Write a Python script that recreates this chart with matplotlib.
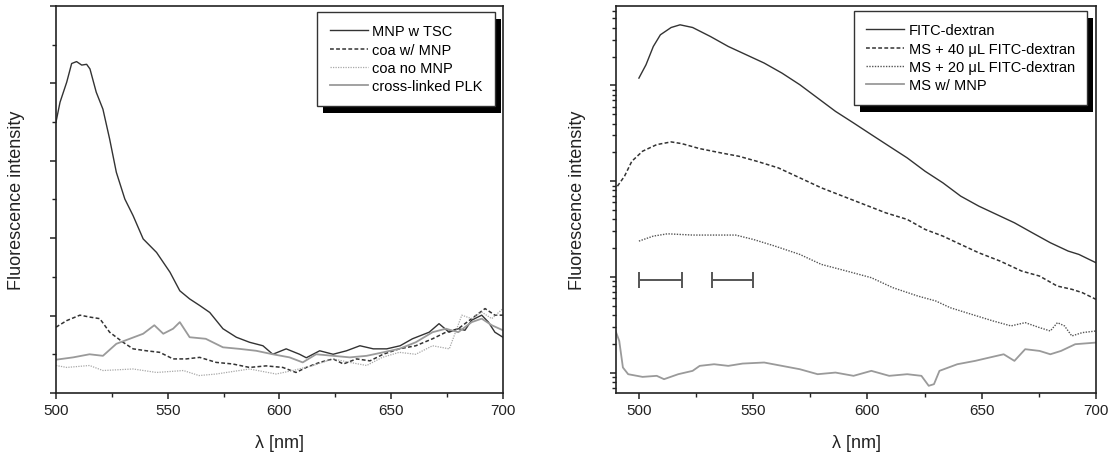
import numpy as np
import matplotlib.pyplot as plt
from matplotlib.patches import Rectangle

plt.rcParams['font.family'] = ['Liberation Sans', 'DejaVu Sans']

# ---- left panel (arbitrary linear units, 0-10) ----
tsc_x = [500, 501.8, 504.8, 507, 509.2, 511.5, 513.7, 515.2, 518, 521, 524, 527, 530.8, 534.5,
         539, 545, 551, 555.4, 559.8, 564.3, 568.8, 574.7, 580.7, 586.6, 592.6, 597, 603, 609,
         612, 618, 624, 630, 636, 642, 648, 654, 659.5, 667, 671.4, 675.9, 680, 683, 686,
         690.5, 693.5, 696.4, 700]
tsc_y = [7.0, 7.51, 8.03, 8.51, 8.56, 8.47, 8.49, 8.37, 7.77, 7.33, 6.56, 5.7, 5.01, 4.58,
         3.98, 3.63, 3.12, 2.64, 2.43, 2.26, 2.08, 1.66, 1.44, 1.31, 1.22, 1.0, 1.14, 1.0,
         0.91, 1.09, 1.0, 1.09, 1.22, 1.14, 1.14, 1.22, 1.4, 1.57, 1.79, 1.57, 1.66, 1.62, 1.88,
         2.01, 1.83, 1.57, 1.44]

coa_mnp_x = [500, 504.8, 510.7, 515.2, 519.6, 524, 530, 534.5, 540.5, 546.4, 552.4, 558.3,
             564.3, 571.7, 579, 586.6, 594, 601.5, 607.4, 612, 618, 624, 628.6, 634.5, 640.5,
             646.4, 653.6, 661, 668.5, 674.5, 680, 686, 692, 696.4, 700]
coa_mnp_y = [1.70, 1.87, 2.01, 1.96, 1.92, 1.57, 1.31, 1.14, 1.09, 1.05, 0.88, 0.88,
             0.92, 0.79, 0.75, 0.66, 0.70, 0.66, 0.53, 0.66, 0.79, 0.88, 0.75, 0.88, 0.83,
             1.0, 1.14, 1.22, 1.4, 1.57, 1.66, 1.92, 2.18, 2.01, 2.01]

coa_no_x = [500, 504.8, 515, 521, 534.5, 545, 557, 564, 571.7, 586.6, 598.5, 606, 615, 624,
            631.5, 639, 646, 653.6, 661, 668.5, 676, 681.6, 686, 690.5, 695, 700]
coa_no_y = [0.71, 0.66, 0.71, 0.58, 0.62, 0.53, 0.58, 0.45, 0.49, 0.62, 0.49, 0.58, 0.71, 0.88,
            0.79, 0.71, 0.92, 1.05, 1.0, 1.22, 1.14, 2.01, 1.92, 2.09, 1.92, 2.18]

plk_x = [500, 507.7, 515, 521, 527, 533, 539, 544, 548, 552.4, 555.4, 559.8, 567, 574.7, 582,
         589.6, 597, 604.5, 610.4, 616.4, 624, 631.5, 639, 646.4, 653.6, 661, 668.5, 674.5,
         680, 686, 690.5, 695, 700]
plk_y = [0.86, 0.92, 1.0, 0.96, 1.27, 1.40, 1.53, 1.75, 1.53, 1.66, 1.83, 1.44, 1.40, 1.18, 1.14,
         1.09, 1.0, 0.92, 0.79, 1.0, 0.96, 0.92, 0.96, 1.05, 1.14, 1.31, 1.57, 1.66,
         1.57, 1.83, 1.92, 1.75, 1.62]

left_labels = ['MNP w TSC', 'coa w/ MNP', 'coa no MNP', 'cross-linked PLK']

# ---- right panel (log10 of intensity) ----
fitc_x = [500, 503.1, 506.3, 509.4, 514.1, 518, 523.5, 531.3, 539.1, 547, 554.8, 562.6, 570.4,
          578.2, 586, 593.9, 601.7, 609.5, 617.4, 625.2, 633, 640.8, 648.7, 656.5, 664.3,
          672.1, 680, 687.8, 692.5, 700]
fitc_lg = [4.076, 4.215, 4.406, 4.528, 4.604, 4.632, 4.604, 4.51, 4.406, 4.319, 4.233, 4.128,
           4.007, 3.868, 3.729, 3.608, 3.486, 3.365, 3.243, 3.104, 2.983, 2.844, 2.74, 2.653,
           2.566, 2.462, 2.358, 2.271, 2.236, 2.149]

ms40_x = [490.6, 493.7, 496.9, 501.6, 507.8, 514.1, 518.8, 526.6, 536, 543.8, 551.6, 561,
          570.4, 579.8, 589.2, 598.6, 608, 617.4, 625.2, 633, 640.8, 648.7, 658, 667.4, 675.3,
          683, 689.4, 694, 700]
ms40_lg = [2.948, 3.052, 3.208, 3.313, 3.382, 3.41, 3.392, 3.34, 3.295, 3.26, 3.208, 3.139,
           3.035, 2.931, 2.844, 2.757, 2.67, 2.601, 2.497, 2.427, 2.34, 2.253, 2.167, 2.063, 2.01,
           1.906, 1.872, 1.837, 1.767]

ms20_x = [500, 506.3, 512.5, 523.5, 531.3, 542.3, 550.1, 559.5, 570.4, 579.8, 590.8, 601.7,
          611.1, 622, 629.9, 636.2, 645.5, 654.9, 662.8, 669, 675.3, 680, 683.1, 686.2, 689.4,
          694, 700]
ms20_lg = [2.375, 2.427, 2.451, 2.438, 2.438, 2.438, 2.392, 2.323, 2.236, 2.132, 2.063, 1.993,
           1.889, 1.802, 1.75, 1.68, 1.611, 1.542, 1.49, 1.524, 1.472, 1.437, 1.524, 1.49, 1.385,
           1.42, 1.437]

msmnp_x = [489.8, 491.4, 493, 495.3, 501.6, 507.8, 511, 517.2, 523.5, 526.6, 532.9, 539.1,
           545.4, 554.8, 562.6, 570.4, 578.2, 586, 593.9, 601.7, 609.5, 617.4, 623.6, 626.8,
           629.1, 631.5, 639.3, 647.1, 653.4, 659.6, 664.3, 669, 675.3, 680, 684.7, 690.9, 700]
msmnp_lg = [1.437, 1.333, 1.056, 0.986, 0.958, 0.969, 0.934, 0.986, 1.021, 1.073, 1.09, 1.073,
            1.097, 1.108, 1.073, 1.038, 0.986, 1.003, 0.969, 1.021, 0.969, 0.986, 0.969, 0.865,
            0.882, 1.021, 1.09, 1.125, 1.16, 1.194, 1.125, 1.247, 1.229, 1.194, 1.229, 1.299,
            1.316]

right_labels = ['FITC-dextran', 'MS + 40 \u03bcL FITC-dextran', 'MS + 20 \u03bcL FITC-dextran', 'MS w/ MNP']

# horizontal bars (range markers)
bar_x = [509.4, 541]
bar_half = [9.4, 9.0]
bar_lg = [1.965, 1.965]

dark = '#333333'
light = '#9a9a9a'

fig = plt.figure(figsize=(11.09, 4.56), dpi=100)
ax1 = fig.add_axes([0.0505, 0.136, 0.403, 0.849])
ax2 = fig.add_axes([0.5555, 0.136, 0.4328, 0.849])

ax1.plot(tsc_x, tsc_y, color=dark, lw=1.0, label=left_labels[0])
ax1.plot(coa_mnp_x, coa_mnp_y, color=dark, lw=1.1, ls=(0, (2.5, 1.5)), label=left_labels[1])
ax1.plot(coa_no_x, coa_no_y, color='#a8a8a8', lw=0.9, ls=(0, (1, 1)), label=left_labels[2])
ax1.plot(plk_x, plk_y, color=light, lw=1.3, label=left_labels[3])
ax1.set_xlim(500, 700)
ax1.set_ylim(0, 10)
ax1.set_yticks(np.arange(0, 11, 2))
ax1.set_yticks(np.arange(1, 10, 2), minor=True)
ax1.set_xticks([500, 550, 600, 650, 700])
ax1.set_xticks([525, 575, 625, 675], minor=True)
ax1.set_yticklabels([])

ax2.plot(fitc_x, 10 ** np.array(fitc_lg), color=dark, lw=1.0, label=right_labels[0])
ax2.plot(ms40_x, 10 ** np.array(ms40_lg), color=dark, lw=1.1, ls=(0, (2.5, 1.5)), label=right_labels[1])
ax2.plot(ms20_x, 10 ** np.array(ms20_lg), color='#555555', lw=1.0, ls=(0, (1, 1)), label=right_labels[2])
ax2.plot(msmnp_x, 10 ** np.array(msmnp_lg), color=light, lw=1.3, label=right_labels[3])
ax2.errorbar(bar_x, 10 ** np.array(bar_lg), xerr=bar_half, fmt='none', ecolor='#555555',
             elinewidth=1.4, capsize=6, capthick=1.4)
ax2.set_yscale('log')
ax2.set_xlim(490, 700)
ax2.set_ylim(10 ** 0.79, 10 ** 4.83)
ax2.set_xticks([500, 550, 600, 650, 700])
ax2.set_xticks([525, 575, 625, 675], minor=True)
ax2.tick_params(axis='y', which='both', labelleft=False)

for ax, lx, ly in [(ax1, -0.069, -0.105), (ax2, -0.0625, -0.105)]:
    for s in ax.spines.values():
        s.set_linewidth(1.2)
        s.set_color('#222222')
    ax.tick_params(which='major', direction='out', length=4.5, width=1.1, color='#222222',
                   labelsize=11, pad=3, labelcolor='#222222')
    ax.tick_params(which='minor', direction='out', length=3, width=1.0, color='#222222')
    ax.set_xlabel('\u03bb [nm]', fontsize=13, color='#222222')
    ax.set_ylabel('Fluorescence intensity', fontsize=13, color='#222222')
    ax.yaxis.set_label_coords(lx, 0.5)
    ax.xaxis.set_label_coords(0.5, ly)

leg_kw = dict(loc='upper right', fontsize=10.5, fancybox=False, framealpha=1,
              edgecolor='#333333', handlelength=2.6, handletextpad=0.3, labelspacing=0.3,
              borderpad=0.85, borderaxespad=0)
leg1 = ax1.legend(bbox_to_anchor=(1 - 8 / 447, 1 - 6 / 387), **leg_kw)
leg2 = ax2.legend(bbox_to_anchor=(1 - 9 / 480, 1 - 5 / 387), **leg_kw)
for leg in (leg1, leg2):
    leg.get_frame().set_linewidth(1.0)

# black drop shadow behind each legend box
fig.canvas.draw()
for ax, leg in [(ax1, leg1), (ax2, leg2)]:
    bb = leg.get_window_extent().transformed(ax.transAxes.inverted())
    ox = 6 / (ax.bbox.width)
    oy = 7 / (ax.bbox.height)
    ax.add_patch(Rectangle((bb.x0 + ox, bb.y0 - oy), bb.width, bb.height, transform=ax.transAxes,
                           facecolor='black', edgecolor='none', zorder=4.9, clip_on=False))

fig.savefig('out.png', dpi=100)
